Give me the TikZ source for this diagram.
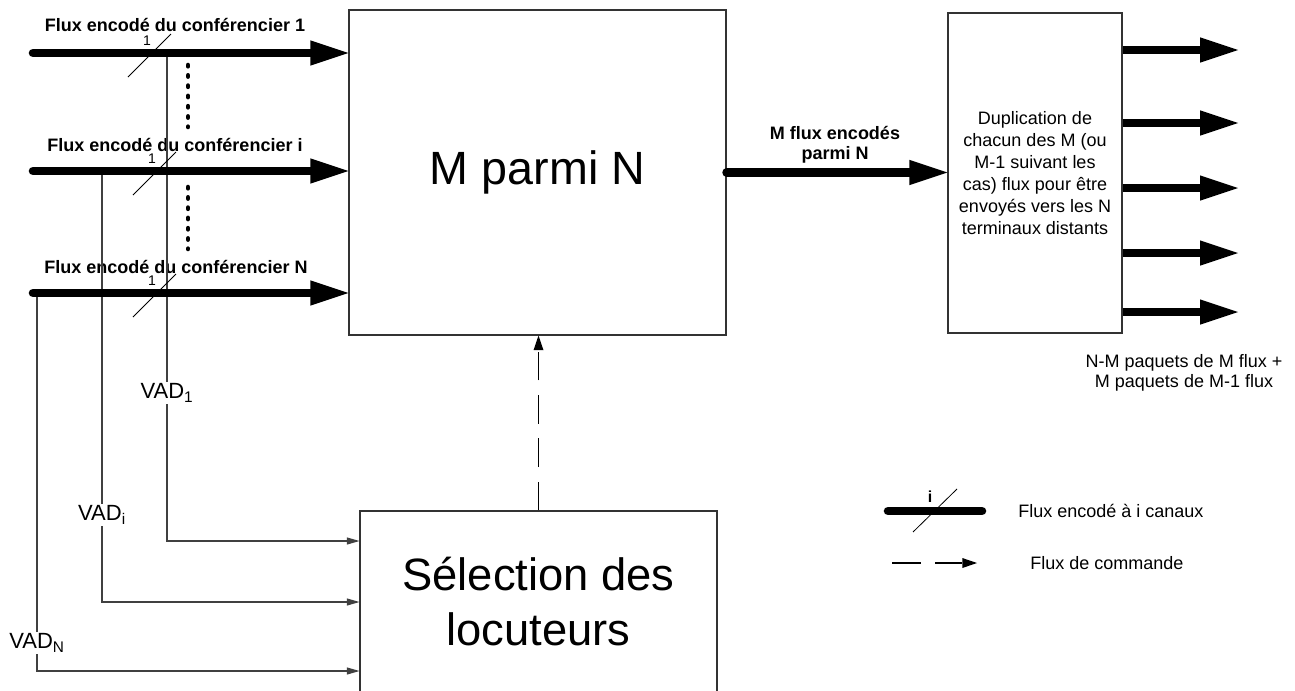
\documentclass[tikz,border=0pt]{standalone}
\usepackage{fontspec}
\setmainfont{Liberation Sans}
\usetikzlibrary{arrows.meta,calc}
\tikzset{
  blocbox/.style={draw=black!80,line width=0.8pt,inner sep=0pt,align=center},
  flowarr/.style={line width=6.4pt,line cap=round,-{Triangle[length=28.5pt,width=19pt,line width=0pt]}},
  flowline/.style={line width=6.4pt,line cap=round},
  vadarr/.style={draw=black!75,line width=0.8pt,-{Triangle[length=9.5pt,width=5.5pt,line width=0pt]}},
  cmdarr/.style={line width=1pt,dash pattern=on 21.5pt off 11pt,-{Triangle[length=11pt,width=7.5pt,line width=0pt]}},
  slashmark/.style={line width=0.6pt},
  dotsline/.style={line width=3.4pt,line cap=round,dash pattern=on 1pt off 6.7pt},
  boldlab/.style={font=\fontsize{13.5}{15}\selectfont\bfseries,align=center,inner sep=0pt},
  txtlab/.style={font=\fontsize{13.5}{15}\selectfont,align=center,inner sep=0pt},
  vadlab/.style={font=\fontsize{16.5}{18}\selectfont,fill=white,inner sep=1.5pt},
  chanlab/.style={font=\fontsize{10.5}{12}\selectfont,inner sep=0pt}
}

\begin{document}
\begin{tikzpicture}[x=0.75pt,y=-0.75pt]
  \useasboundingbox (0,0) rectangle (1295,690);
  \clip (0,0) rectangle (1295,690);

  % blocs
  \node[blocbox,minimum width=282.75pt,minimum height=243.75pt,font=\fontsize{35}{40}\selectfont] (mparmi) at (537.5,172.5) {M parmi N};
  \node[blocbox,minimum width=130.5pt,minimum height=240pt,font=\fontsize{13.5}{16.4}\selectfont] (dupli) at (1035,173) {Duplication de\\chacun des M (ou\\M-1 suivant les\\cas) flux pour être\\envoyés vers les N\\terminaux distants};
  \node[blocbox,minimum width=267.75pt,minimum height=135.75pt,font=\fontsize{34}{41.25}\selectfont] (select) at (538.5,601.5) {Sélection des\\locuteurs};

  % flux d'entree
  \coordinate (in1) at (33,53);
  \coordinate (ini) at (33,171);
  \coordinate (inN) at (33,293);
  \node[boldlab] (lab1) at (175,25) {Flux encodé du conférencier 1};
  \node[boldlab] (labi) at (175,145) {Flux encodé du conférencier i};
  \node[boldlab] (labN) at (176,267) {Flux encodé du conférencier N};

  % VAD vers la selection
  \coordinate (t1) at (167,53);  \coordinate (k1) at (167,541);
  \coordinate (ti) at (102,171); \coordinate (ki) at (102,602);
  \coordinate (tN) at (37,293);  \coordinate (kN) at (37,671);
  \draw[vadarr] (t1) -- node[vadlab,pos=.697] (vad1) {VAD\textsubscript{1}} (k1) -- (k1 -| select.west);
  \draw[vadarr] (ti) -- node[vadlab,pos=.798] (vadi) {VAD\textsubscript{i}} (ki) -- (ki -| select.west);
  \draw[vadarr] (tN) -- node[vadlab,pos=.926] (vadN) {VAD\textsubscript{N}} (kN) -- (kN -| select.west);

  \draw[flowarr] (in1) -- (in1 -| mparmi.west);
  \draw[flowarr] (ini) -- (ini -| mparmi.west);
  \draw[flowarr] (inN) -- (inN -| mparmi.west);
  \foreach \x/\y/\n in {128/53/a,133/171/b,133/293/c}{
    \draw[slashmark] (\x,\y+24) -- ++(43,-43);
    \node[chanlab] (canal\n) at (\x+19,\y-12) {1};
  }
  \draw[dotsline] (188,65) -- (188,127);
  \draw[dotsline] (188,187) -- (188,249);

  % commande
  \draw[cmdarr] (select.north) -- (select.north |- mparmi.south);

  % M flux vers duplication
  \draw[flowarr] (mparmi.east) -- (mparmi.east -| dupli.west);
  \node[boldlab] (mflux) at (835,145) {M flux encodés\\parmi N};

  % sorties
  \foreach \y [count=\k] in {50,123,188,253,312}{
    \coordinate (sortie\k) at (1238,\y);
    \draw[flowarr,line cap=butt] (dupli.east |- sortie\k) -- (sortie\k);
  }
  \node[txtlab] (paquets) at (1184,373) {N-M paquets de M flux +\\M paquets de M-1 flux};

  % legende
  \coordinate (lg1) at (888,511); \coordinate (lg2) at (982,511);
  \draw[flowline] (lg1) -- (lg2);
  \draw[slashmark] (913,532) -- (957,489);
  \node[chanlab,font=\fontsize{12}{13}\selectfont\bfseries] (canali) at (930,497) {i};
  \node[txtlab,anchor=west] (legflux) at (1018,511) {Flux encodé à i canaux};
  \coordinate (lg3) at (892,563); \coordinate (lg4) at (977,563);
  \draw[cmdarr] (lg3) -- (lg4);
  \node[txtlab,anchor=west] (legcmd) at (1030,563) {Flux de commande};
\end{tikzpicture}
\end{document}
